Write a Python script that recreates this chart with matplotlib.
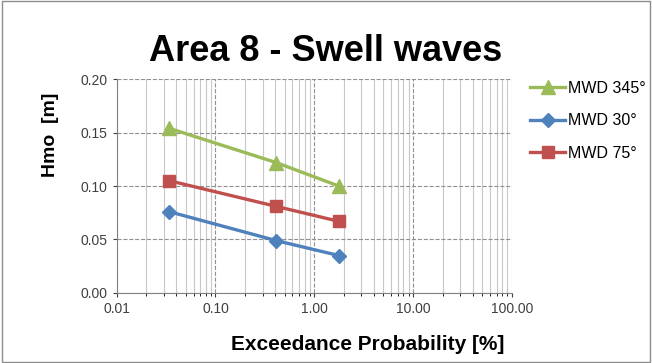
import matplotlib.pyplot as plt
from matplotlib.patches import Rectangle

plt.rcParams['font.family'] = ['Liberation Sans', 'DejaVu Sans']

prob = [0.034, 0.41, 1.77]
mwd345 = [0.154, 0.122, 0.100]
mwd30 = [0.076, 0.049, 0.035]
mwd75 = [0.105, 0.081, 0.067]
yticks = [0.00, 0.05, 0.10, 0.15, 0.20]
xticks = [0.01, 0.1, 1, 10, 100]
xlabels = ['0.01', '0.10', '1.00', '10.00', '100.00']

fig = plt.figure(figsize=(6.52, 3.63), dpi=100)
fig.patches.append(Rectangle((0.003, 0.003), 0.994, 0.994, transform=fig.transFigure,
                             fill=False, edgecolor='#8c8c8c', linewidth=1))
ax = fig.add_axes([0.179, 0.193, 0.606, 0.589])

ax.plot(prob, mwd345, color='#9bbb59', marker='^', markersize=10, linewidth=2.4, label='MWD 345°')
ax.plot(prob, mwd30, color='#4f81bd', marker='D', markersize=7, linewidth=2.4, label='MWD 30°')
ax.plot(prob, mwd75, color='#c0504d', marker='s', markersize=9, linewidth=2.4, label='MWD 75°')

ax.set_xscale('log')
ax.set_xlim(0.01, 100)
ax.set_ylim(0, 0.2)
ax.set_xticks(xticks)
ax.set_xticklabels(xlabels)
ax.set_yticks(yticks)
ax.set_yticklabels(['%.2f' % v for v in yticks])
ax.tick_params(labelsize=10, length=3, colors='#404040')

ax.grid(True, which='minor', axis='x', color='#c8c8c8', linestyle='-', linewidth=0.8)
ax.grid(True, which='major', axis='x', color='#909090', linestyle='--', linewidth=0.8)
ax.grid(True, which='major', axis='y', color='#909090', linestyle='--', linewidth=0.8)
ax.set_axisbelow(True)
for s in ['top', 'right']:
    ax.spines[s].set_visible(False)
ax.spines['left'].set_color('#808080')
ax.spines['bottom'].set_color('#808080')

ax.set_xlabel('Exceedance Probability [%]', fontsize=15, fontweight='bold')
ax.xaxis.set_label_coords(0.635, -0.196)
ax.set_ylabel('Hmo  [m]', fontsize=14, fontweight='bold')
ax.yaxis.set_label_coords(-0.145, 0.74)
fig.suptitle('Area 8 - Swell waves', fontsize=26, fontweight='bold', y=0.905)

ax.legend(loc='upper left', bbox_to_anchor=(1.01, 1.06), frameon=False, fontsize=11.5,
          handlelength=2.2, handletextpad=0.2, labelspacing=1.1)

fig.savefig('out.png', dpi=100)
